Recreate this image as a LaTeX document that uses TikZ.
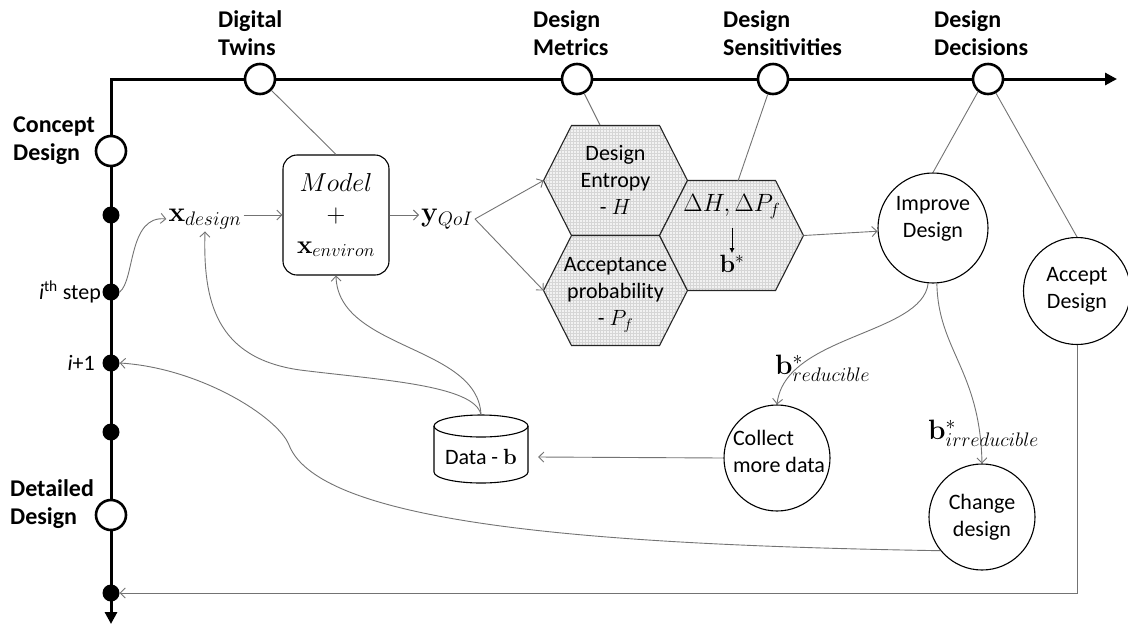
\documentclass[tikz,border=0pt]{standalone}
\usepackage{fix-cm}
\usepackage[no-math]{fontspec}
\setmainfont{Carlito}
\usetikzlibrary{arrows.meta,calc}

\begin{document}
\begin{tikzpicture}[x=1pt,y=-1pt,
  axis/.style={line width=3pt, line join=miter},
  milestone/.style={circle, draw, line width=2.6pt, fill=white, minimum size=30pt, inner sep=0pt},
  stepdot/.style={circle, fill=black, minimum size=17pt, inner sep=0pt},
  phase/.style={font=\fontsize{24}{28}\selectfont\bfseries, align=left, inner sep=0pt},
  link/.style={draw=black!55, line width=0.9pt},
  flow/.style={link, -{Straight Barb[length=5pt,width=10pt]}},
  decision/.style={circle, draw, line width=1.1pt, fill=white, inner sep=0pt},
  txt/.style={font=\fontsize{22}{27}\selectfont, align=center, inner sep=0pt},
  mathtxt/.style={font=\fontsize{28}{32}\selectfont, inner sep=2pt},
  cellgrid/.style={draw=black!16, line width=0.25pt},
  cellline/.style={draw=black!85, line width=1.1pt},
]
\useasboundingbox (0,0) rectangle (1128,625);

% time axes
\coordinate (corner) at (111,79);
\coordinate (xend) at (1117,79);
\coordinate (yend) at (111,624);
\draw[axis, {Triangle[length=12pt,width=12pt]}-{Triangle[length=12pt,width=12pt]}]
  (yend) -- (corner) -- (xend);

% milestones on the top axis
\node[milestone] (dt) at (260,79) {};
\node[milestone] (dm) at (577,79) {};
\node[milestone] (ds) at (773,79) {};
\node[milestone] (dd) at (988,79) {};
\node[phase, anchor=north west] (ldt) at (218,10) {Digital\\Twins};
\node[phase, anchor=north west] (ldm) at (533,10) {Design\\Metrics};
\node[phase, anchor=north west] (lds) at (723,10) {Design\\Sensitivities};
\node[phase, anchor=north west] (ldd) at (934,10) {Design\\Decisions};

% stages on the left axis
\node[milestone] (cd) at (111,151) {};
\node[milestone] (det) at (111,515) {};
\node[stepdot] (d1) at (111,215) {};
\node[stepdot] (d2) at (111,292) {};
\node[stepdot] (d3) at (111,363) {};
\node[stepdot] (d4) at (111,432) {};
\node[stepdot] (d5) at (111,593) {};
\node[phase, anchor=north west] (lcd) at (13,117) {Concept\\Design};
\node[phase, anchor=north west] (ldet) at (10,479) {Detailed\\Design};
\node[txt, anchor=east] (lstep) at (101,292) {\textit{i}\textsuperscript{th} step};
\node[txt, anchor=east] (lnext) at (95,363) {\textit{i}+1};

% model and its inputs / outputs
\node[draw, line width=1.1pt, rounded corners=14pt, minimum width=106pt, minimum height=120pt,
      align=center, font=\fontsize{26}{31}\selectfont, inner sep=0pt] (model) at (336,215)
      {$Model$\\$+$\\$\mathbf{x}_{environ}$};
\node[mathtxt] (xd) at (205,219) {$\mathbf{x}_{design}$};
\node[mathtxt] (yq) at (447,219) {$\mathbf{y}_{QoI}$};

% honeycomb of metric cells
\coordinate (h1) at (615.5,180.5);
\coordinate (h2) at (615.5,290.5);
\coordinate (h3) at (731.5,235.5);
\foreach \c in {h1,h2,h3} {
  \fill[black!5] (\c) ++(-72,0) -- ++(28,-55) -- ++(88,0) -- ++(28,55) -- ++(-28,55) -- ++(-88,0) -- cycle;
  \begin{scope}
    \clip (\c) ++(-72,0) -- ++(28,-55) -- ++(88,0) -- ++(28,55) -- ++(-28,55) -- ++(-88,0) -- cycle;
    \draw[cellgrid, step=3pt] ($(\c)+(-75,-60)$) grid ($(\c)+(75,60)$);
  \end{scope}
  \draw[cellline] (\c) ++(-72,0) -- ++(28,-55) -- ++(88,0) -- ++(28,55) -- ++(-28,55) -- ++(-88,0) -- cycle;
}
\coordinate (h1w) at ($(h1)+(-72,0)$);
\coordinate (h2w) at ($(h2)+(-72,0)$);
\coordinate (h1n) at (600,125);
\coordinate (h3n) at (738,181);
\coordinate (h3e) at ($(h3)+(72,0)$);
\node[txt] (entropy) at (615.5,180) {Design\\Entropy\\- $H$};
\node[txt] (accprob) at (615.5,295) {Acceptance\\probability\\- $P_f$};
\node[font=\fontsize{25}{29}\selectfont, inner sep=1pt] (sens) at (732,207) {$\Delta H, \Delta P_f$};
\node[font=\fontsize{25}{29}\selectfont, inner sep=1pt] (bstar) at (732,264) {$\mathbf{b}^*$};
\draw[-{Latex[length=5pt,width=5pt]}, line width=0.7pt, shorten <=8pt, shorten >=1pt] (sens.south) -- (bstar.north);

% decisions
\node[decision, minimum size=110pt] (improve) at (933,228) {};
\node[txt] (improvetxt) at (933,219) {Improve\\Design};
\node[decision, minimum size=107pt] (accept) at (1077,291) {};
\node[txt] (accepttxt) at (1077,290) {Accept\\Design};
\node[decision, minimum size=106pt] (collect) at (777,458) {};
\node[txt, align=left] (collecttxt) at (779,451) {Collect\\more data};
\node[decision, minimum size=106pt] (change) at (982,517) {};
\node[txt] (changetxt) at (982,517) {Change\\design};
\node[mathtxt, anchor=west, inner sep=0pt] (bred) at (775,368) {$\mathbf{b}^*_{reducible}$};
\node[mathtxt, anchor=west, inner sep=0pt] (birr) at (928,433) {$\mathbf{b}^*_{irreducible}$};

% data store
\node[minimum width=94pt, minimum height=68pt, inner sep=0pt] (data) at (481,449) {};
\draw[line width=1.1pt, fill=white] (434,426) -- (434,472) arc[start angle=180, end angle=0, x radius=47, y radius=11] -- (528,426);
\draw[line width=1.1pt] (481,426) ellipse[x radius=47, y radius=11];
\node[txt] (datatxt) at (481,457) {Data - $\mathbf{b}$};
\coordinate (datain) at ($(data.east)+(10,8)$);

% connectors
\draw[link] (dt) -- (model.north);
\draw[link] (dm) -- (h1n);
\draw[link] (ds) -- (h3n);
\draw[link] (dd.232) -- (improve.north);
\draw[link] (dd) -- (accept.north);
\draw[flow] (d2.east) .. controls (135,280) and (128,215) .. (xd.west);
\draw[flow] (xd.east |- model.west) -- (model.west);
\draw[flow] (model.east) -- (yq.west |- model.east);
\draw[flow] (yq.east) -- (h1w);
\draw[flow] (yq.east) -- (h2w);
\draw[flow] (h3e) -- (improve);
\draw[flow] (improve.265) .. controls (922,335) and (785,335) .. (collect.north);
\draw[flow] (improve.274) .. controls (938,350) and (980,370) .. (change.north);
\draw[flow] (collect.west) -- (datain);
\draw[flow] (data.north) .. controls (475,385) and (380,380) .. (300,370)
  .. controls (215,358) and (203,300) .. (xd.south);
\draw[flow] (data.north) .. controls (478,345) and (338,350) .. (model.south);
\draw[flow] (change.219) .. controls (600,545) and (320,525) .. (289,445)
  .. controls (278,417) and (200,368) .. (d3.east);
\draw[flow] (accept.south) |- (d5.east);
\end{tikzpicture}
\end{document}
